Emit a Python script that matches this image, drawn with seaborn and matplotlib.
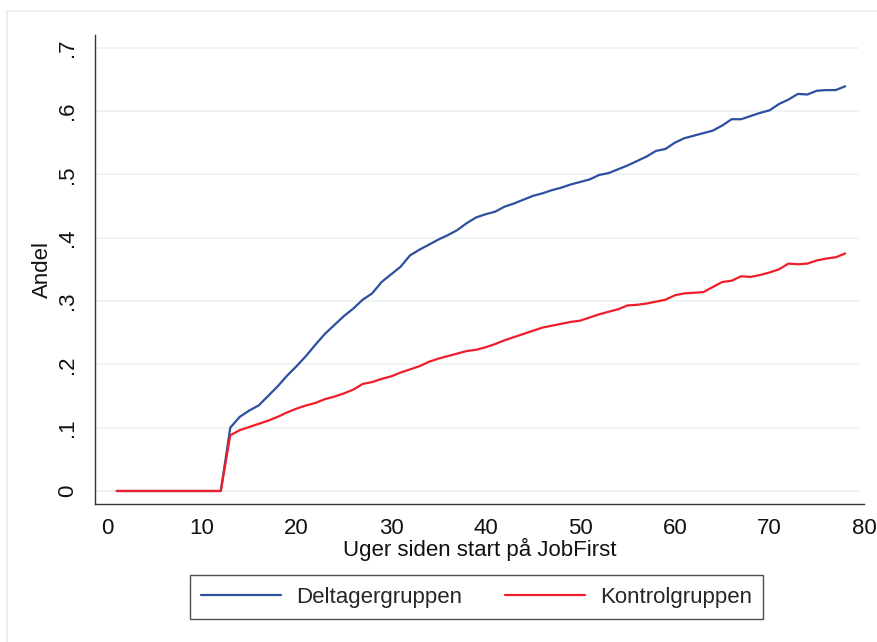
import numpy as np
import pandas as pd
import seaborn as sns
import matplotlib.pyplot as plt
from matplotlib.patches import Rectangle

uger = list(range(1, 79))

deltager = [0] * 12 + [
    0.100, 0.117, 0.127, 0.135, 0.150, 0.165, 0.182, 0.197, 0.213, 0.231,
    0.248, 0.262, 0.276, 0.288, 0.302, 0.312, 0.330, 0.342, 0.354, 0.372,
    0.381, 0.389, 0.397, 0.404, 0.412, 0.423, 0.432, 0.437, 0.441, 0.449,
    0.454, 0.460, 0.466, 0.470, 0.475, 0.479, 0.484, 0.488, 0.492, 0.499,
    0.502, 0.508, 0.514, 0.521, 0.528, 0.537, 0.540, 0.550, 0.557, 0.561,
    0.565, 0.569, 0.577, 0.587, 0.587, 0.592, 0.597, 0.601, 0.611, 0.618,
    0.627, 0.626, 0.632, 0.633, 0.633, 0.639]

kontrol = [0] * 12 + [
    0.088, 0.096, 0.101, 0.106, 0.111, 0.117, 0.124, 0.130, 0.135, 0.139,
    0.145, 0.149, 0.154, 0.160, 0.169, 0.172, 0.177, 0.181, 0.187, 0.192,
    0.197, 0.204, 0.209, 0.213, 0.217, 0.221, 0.223, 0.227, 0.232, 0.238,
    0.243, 0.248, 0.253, 0.258, 0.261, 0.264, 0.267, 0.269, 0.274, 0.279,
    0.283, 0.287, 0.293, 0.294, 0.296, 0.299, 0.302, 0.309, 0.312, 0.313,
    0.314, 0.322, 0.330, 0.332, 0.339, 0.338, 0.341, 0.345, 0.350, 0.359,
    0.358, 0.359, 0.364, 0.367, 0.369, 0.375]

grupper = ["Deltagergruppen", "Kontrolgruppen"]
farver = ["#2c4f9f", "#ee1d2a"]

df = pd.DataFrame({
    "uge": uger * 2,
    "andel": deltager + kontrol,
    "gruppe": [grupper[0]] * len(uger) + [grupper[1]] * len(uger),
})

sns.set_style("white")
plt.rcParams["font.family"] = ["Liberation Sans", "DejaVu Sans"]

fig = plt.figure(figsize=(8.77, 6.42), dpi=100)
ax = fig.add_axes([0.1083, 0.215, 0.877, 0.7305])

sns.lineplot(data=df, x="uge", y="andel", hue="gruppe", palette=farver,
             linewidth=1.6, ax=ax, legend=False)

ax.set_xlim(-1.3, 80)
ax.set_ylim(-0.0205, 0.72)
ax.set_xticks(range(0, 81, 10))
yticks = [0, 0.1, 0.2, 0.3, 0.4, 0.5, 0.6, 0.7]
ax.set_yticks(yticks)
ax.set_yticklabels(["0", ".1", ".2", ".3", ".4", ".5", ".6", ".7"],
                   rotation=90, va="center")
for y in yticks:
    ax.plot([-1.3, 79.4], [y, y], color="#eaf0f0", lw=1.2, zorder=0)

for s in ["top", "right"]:
    ax.spines[s].set_visible(False)
for s in ["left", "bottom"]:
    ax.spines[s].set_color("#333333")
    ax.spines[s].set_linewidth(1.0)
ax.tick_params(axis="both", direction="out", length=7, width=1,
               color="#333333", labelsize=16, labelcolor="#111111")
ax.tick_params(axis="y", pad=5)
ax.tick_params(axis="x", pad=3)

ax.set_xlabel("Uger siden start på JobFirst", fontsize=16, labelpad=-1,
              color="#111111")
ax.set_ylabel("Andel", fontsize=16, labelpad=3, color="#111111")

handles = [plt.Line2D([], [], color=c, lw=1.6) for c in farver]
leg = fig.legend(handles, grupper, loc="center", ncol=2,
                 bbox_to_anchor=(0.5433, 0.070), frameon=True, fancybox=False,
                 fontsize=16, handlelength=3.6, handletextpad=0.68,
                 columnspacing=1.9, borderpad=0.5, borderaxespad=0,
                 edgecolor="#222222")
leg.get_frame().set_linewidth(1.0)

fig.patches.append(Rectangle((0.008, -0.01), 1.0, 0.993,
                             transform=fig.transFigure, fill=False,
                             edgecolor="#e6ecec", lw=1.2))

fig.savefig("out.png", dpi=100)
